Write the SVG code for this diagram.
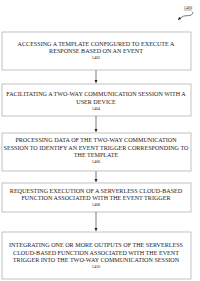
<svg xmlns="http://www.w3.org/2000/svg" width="200" height="281" viewBox="0 0 200 281">
<style>
.box{fill:#fff;stroke:#999;stroke-width:0.6}
.t{font-family:"Liberation Serif",serif;font-size:6.1px;fill:#222;text-anchor:middle}
.n{font-family:"Liberation Serif",serif;font-size:4.2px;fill:#222;text-anchor:middle}
.c{stroke:#222;stroke-width:0.6;fill:none}
</style>
<defs>
<marker id="ah" markerWidth="4" markerHeight="4" refX="3" refY="2" orient="auto" markerUnits="userSpaceOnUse">
<path d="M0,0.5 L3,2 L0,3.5 Z" fill="#222"/>
</marker>
</defs>
<rect width="200" height="281" fill="#fff"/>
<g id="label1400">
<text x="188" y="9" class="n">1400</text>
<line x1="184" y1="10" x2="192" y2="10" stroke="#222" stroke-width="0.4"/>
<path d="M193,12 C192,18 186,14 182,17 C180,18 179,19 178,20" class="c" marker-end="url(#ah)"/>
</g>
<g id="connectors">
<line x1="96" y1="70" x2="96" y2="83" class="c" marker-end="url(#ah)"/>
<line x1="96" y1="116" x2="96" y2="132" class="c" marker-end="url(#ah)"/>
<line x1="96" y1="171" x2="96" y2="182" class="c" marker-end="url(#ah)"/>
<line x1="96" y1="212" x2="96" y2="231" class="c" marker-end="url(#ah)"/>
</g>
<g id="n1402">
<rect x="2" y="32" width="189" height="38" class="box"/>
<text x="96" y="45.5" class="t">ACCESSING A TEMPLATE CONFIGURED TO EXECUTE A</text>
<text x="96" y="53" class="t">RESPONSE BASED ON AN EVENT</text>
<text x="96" y="59" class="n">1402</text>
</g>
<g id="n1404">
<rect x="2" y="84" width="189" height="32" class="box"/>
<text x="96" y="95.5" class="t">FACILITATING A TWO-WAY COMMUNICATION SESSION WITH A</text>
<text x="96" y="103.5" class="t">USER DEVICE</text>
<text x="96" y="109.5" class="n">1404</text>
</g>
<g id="n1406">
<rect x="2" y="133" width="189" height="38" class="box"/>
<text x="96" y="141.5" class="t">PROCESSING DATA OF THE TWO-WAY COMMUNICATION</text>
<text x="96" y="149.5" class="t">SESSION TO IDENTIFY AN EVENT TRIGGER CORRESPONDING TO</text>
<text x="96" y="156.5" class="t">THE TEMPLATE</text>
<text x="96" y="162.5" class="n">1406</text>
</g>
<g id="n1408">
<rect x="2" y="183" width="189" height="29" class="box"/>
<text x="96" y="192.5" class="t">REQUESTING EXECUTION OF A SERVERLESS CLOUD-BASED</text>
<text x="96" y="199.5" class="t">FUNCTION ASSOCIATED WITH THE EVENT TRIGGER</text>
<text x="96" y="205.5" class="n">1408</text>
</g>
<g id="n1410">
<rect x="2" y="232" width="189" height="47" class="box"/>
<text x="96" y="247" class="t">INTEGRATING ONE OR MORE OUTPUTS OF THE SERVERLESS</text>
<text x="96" y="254.5" class="t">CLOUD-BASED FUNCTION ASSOCIATED WITH THE EVENT</text>
<text x="96" y="261.5" class="t">TRIGGER INTO THE TWO-WAY COMMUNICATION SESSION</text>
<text x="96" y="267.5" class="n">1410</text>
</g>
</svg>
